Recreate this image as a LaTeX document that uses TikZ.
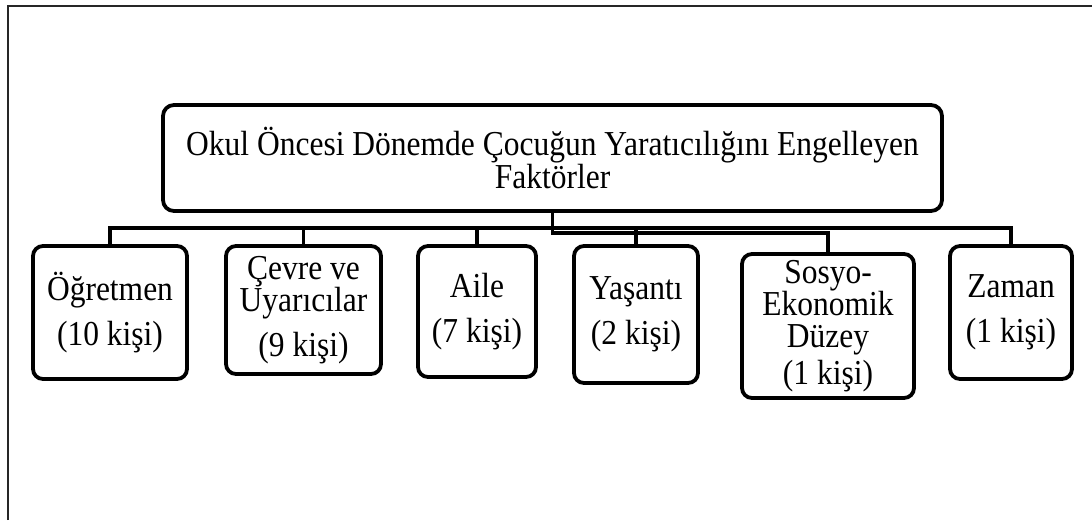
\documentclass[tikz,border=0pt]{standalone}
\usepackage{fontspec}
\setmainfont{Liberation Serif}[FakeStretch=0.9]
\usetikzlibrary{calc}

\tikzset{
  topbox/.style={draw, line width=3.8pt, rounded corners=11pt, align=center, inner sep=0pt},
  childbox/.style={draw, line width=3.8pt, rounded corners=10pt, align=center, inner sep=0pt},
  conn/.style={line width=3.8pt},
  frame/.style={line width=1.5pt, black!85}
}

\begin{document}
\begin{tikzpicture}[x=1pt, y=-1pt, font=\fontsize{35}{32}\selectfont]
            \useasboundingbox (0,0) rectangle (1092,520);
            \draw[frame] (8,520)--(8,6)--(1092,6);
            \node[topbox, minimum width=779pt, minimum height=106pt] (top) at (552.5,158)
                {Okul Öncesi Dönemde Çocuğun Yaratıcılığını Engelleyen\\[1pt]Faktörler};
            \node[childbox, minimum width=154pt, minimum height=133pt] (ogr) at (110,312.5) {Öğretmen\\[13pt](10 kişi)};
            \node[childbox, minimum width=155pt, minimum height=128pt] (cev) at (303.5,310) {Çevre ve\\Uyarıcılar\\[13pt](9 kişi)};
            \node[childbox, minimum width=118pt, minimum height=131pt] (aile) at (477,311.5) {Aile\\[13pt](7 kişi)};
            \node[childbox, minimum width=124pt, minimum height=137pt] (yas) at (636,314.5) {Yaşantı\\[13pt](2 kişi)};
            \node[childbox, minimum width=172pt, minimum height=144pt] (sos) at (828,326) {Sosyo-\\Ekonomik\\Düzey\\[5pt](1 kişi)};
            \node[childbox, minimum width=122pt, minimum height=133pt] (zam) at (1011,312.5) {Zaman\\[13pt](1 kişi)};
            \coordinate (busA) at (0,228);
            \coordinate (busB) at (0,233);
            \foreach \c in {ogr,cev,aile,yas,zam}
              \draw[conn] (top.south) |- (\c.north |- busA) -- (\c.north);
            \draw[conn] (top.south) |- (sos.north |- busB) -- (sos.north);
        \end{tikzpicture}
\end{document}
